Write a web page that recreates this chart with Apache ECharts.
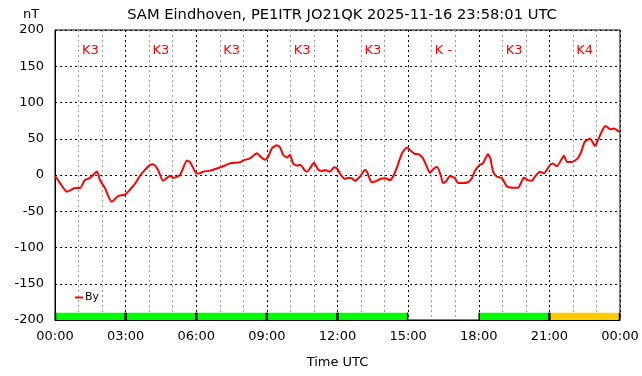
<!DOCTYPE html>
<html>
<head>
<meta charset="utf-8">
<script src="https://cdn.jsdelivr.net/npm/echarts@6/dist/echarts.min.js"></script>
<style>
html,body{margin:0;padding:0;background:#fff;}
#chart{width:642px;height:376px;}
</style>
</head>
<body>
<div id="chart"></div>
<script>
// By (nT), time in hours UTC
var byHours = [0.00,0.21,0.51,0.85,1.06,1.27,1.49,1.78,1.91,2.12,2.41,2.68,2.97,3.19,3.40,3.61,3.82,4.04,4.16,4.38,4.59,4.89,5.01,5.31,5.61,5.73,5.95,
	6.03,6.16,6.29,6.58,6.88,7.14,7.43,7.86,7.99,8.28,8.58,8.71,8.92,9.05,9.22,9.43,9.56,9.69,9.86,9.98,10.11,10.28,10.41,10.62,10.70,10.83,11.00,11.17,11.34,11.47,11.68,11.85,
	11.98,12.19,12.32,12.45,12.62,12.74,12.96,13.17,13.25,13.42,13.51,13.81,14.02,14.23,14.36,14.53,14.74,14.95,15.16,15.29,15.46,15.63,15.80,15.93,16.06,16.23,16.40,16.48,16.61,16.78,16.99,17.12,17.33,17.54,17.71,17.84,
	18.05,18.18,18.39,18.49,18.61,18.76,18.99,19.20,19.41,19.67,19.92,20.09,20.26,20.39,20.60,20.77,21.03,21.15,21.32,21.62,21.75,21.96,22.20,22.35,22.51,22.73,22.94,23.06,23.29,23.39,23.58,23.75,23.92,24.00];
var byValues = [-1,-11,-23,-18,-18,-7,-4,5,-7,-18,-37,-29,-27,-20,-12,-1,7,14,15,7,-8,-1,-4,0,20,18,4.6,
	2,2.5,4.6,6,9,12,16,17.5,20,23,30,26,21,25,37,41,38,28,24,28,16,13,14,6,4.6,9,17,8,5.5,7,4.6,10.6,
	9,-2,-5.5,-3.7,-4.6,-8,-2,7,4.6,-9,-10,-5.5,-4.6,-7,-2,11,30,38,32,29,28.5,23,11,3,8,11,-2,-11,-9,-1.4,-4.6,-11,-11,-10,-4.6,6,
	14,16,28.5,23,4.6,-2,-4.6,-16,-17.5,-17.5,-3.7,-7,-8,-2,4.6,2.3,14,16,12,26.6,18,18,23,32,46,50,40,48,64,67.6,63,64,60.7,60];

// K index per 3 hour block (null = no data)
var kStart = [0,3,6,9,12,15,18,21];
var kValues = [3,3,3,3,3,null,3,4];

var titleText = 'SAM Eindhoven, PE1ITR JO21QK 2025-11-16 23:58:01 UTC';

function pad2(n){ return (n<10?'0':'')+n; }

function kColor(k){
	if(k>=5) return '#ff0000';
	if(k>=4) return '#ffcc00';
	return '#00ff00';
}

var byData = [];
for(var i=0;i<byHours.length;i++){
	byData.push([byHours[i], byValues[i]]);
}

var chart = echarts.init(document.getElementById('chart'), null, {renderer:'canvas'});
var font = 'DejaVu Sans';
var option = {
	animation:false,
	backgroundColor:'#fff',
	textStyle:{fontFamily:font},
	title:{
		text:titleText,
		left:337,
		textAlign:'center',
		top:3,
		textStyle:{fontSize:14.7,fontWeight:'normal',color:'#000',fontFamily:font}
	},
	legend:{
		data:['By'],
		left:70,
		top:287,
		icon:'rect',
		itemWidth:8,
		itemHeight:2,
		itemGap:2,
		textStyle:{fontSize:11,color:'#000',fontFamily:font,padding:[0,0,0,-3]}
	},
	graphic:[{
		type:'text',
		left:23,
		top:8,
		style:{text:'nT',fontSize:13,fill:'#000',fontFamily:font}
	}],
	grid:{
		left:55,right:22,top:30,bottom:56,
		show:true,
		borderColor:'#000',
		borderWidth:1,
		containLabel:false
	},
	xAxis:{
		type:'value',
		min:0,max:24,interval:3,
		name:'Time UTC',
		nameLocation:'middle',
		nameGap:36,
		nameTextStyle:{fontSize:13,color:'#000',fontFamily:font},
		axisLine:{show:true,onZero:false,lineStyle:{color:'#000',width:1}},
		axisTick:{show:false},
		axisLabel:{
			fontSize:13,color:'#000',margin:10,fontFamily:font,
			formatter:function(v){ return pad2(v%24)+':00'; }
		},
		splitLine:{show:true,lineStyle:{color:'#000',type:[2,3],width:1}},
		minorTick:{show:false,splitNumber:3},
		minorSplitLine:{show:true,lineStyle:{color:'#999',type:[2,3],width:1}}
	},
	yAxis:{
		type:'value',
		min:-200,max:200,interval:50,
		axisLine:{show:true,lineStyle:{color:'#000',width:1}},
		axisTick:{show:false},
		axisLabel:{fontSize:13,color:'#000',margin:11,fontFamily:font},
		splitLine:{show:true,lineStyle:{color:'#000',type:[2,3],width:1}}
	},
	series:[{
		name:'K',
		type:'custom',
		z:3,
		silent:true,
		data:kStart.map(function(s){ return [s,-200]; }),
		renderItem:function(params, api){
			var s = api.value(0);
			var k = kValues[params.dataIndex];
			var p0 = api.coord([s,-200]);
			var p1 = api.coord([s+3,-190]);
			var pt = api.coord([s+1.5,172]);
			var children = [];
			if(k!==null){
				children.push({
					type:'rect',
					shape:{x:p0[0],y:p1[1],width:p1[0]-p0[0],height:p0[1]-p1[1]},
					style:{fill:kColor(k)}
				});
				children.push({
					type:'line',
					shape:{x1:p0[0]+0.5,y1:p1[1],x2:p0[0]+0.5,y2:p0[1]},
					style:{stroke:'#000',lineWidth:1.5}
				});
				children.push({
					type:'line',
					shape:{x1:p1[0]-0.5,y1:p1[1],x2:p1[0]-0.5,y2:p0[1]},
					style:{stroke:'#000',lineWidth:1.5}
				});
			}
			children.push({
				type:'text',
				x:pt[0],y:pt[1],
				style:{
					text:(k===null?'K -':'K'+k),
					fill:'#ff0000',
					fontSize:13,
					fontFamily:font,
					align:'center',
					verticalAlign:'middle'
				}
			});
			return {type:'group',children:children};
		}
	},{
		name:'By',
		type:'line',
		z:4,
		data:byData,
		showSymbol:false,
		smooth:0.2,
		color:'#ff0000',
		lineStyle:{color:'#ff0000',width:2}
	}]
};
chart.setOption(option);
window.onresize = chart.resize;
</script>
</body>
</html>
